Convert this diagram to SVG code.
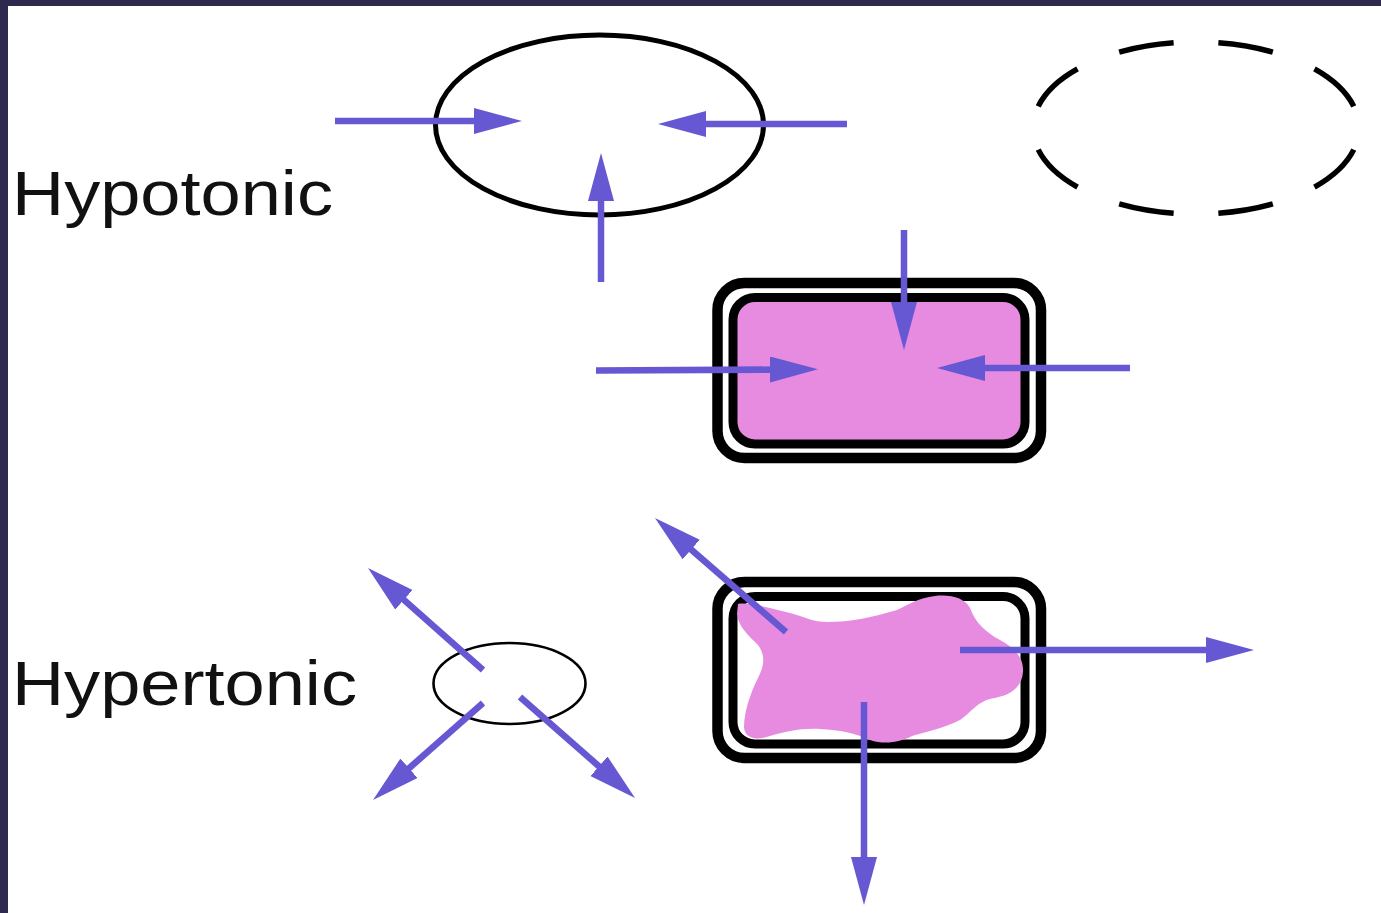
<svg xmlns="http://www.w3.org/2000/svg" width="1381" height="913" viewBox="0 0 1381 913">
  <style>
    .label { font-family: "Liberation Sans", Arial, sans-serif; font-size: 63px; fill: #111111; }
    .wall { fill: none; stroke: #000000; }
    .flow { stroke: #6657d2; stroke-width: 6.5; fill: none; marker-end: url(#head); }
  </style>
  <defs>
    <marker id="head" markerUnits="userSpaceOnUse" markerWidth="50" markerHeight="28" refX="18" refY="13" orient="auto">
      <path d="M0,0 L48,13 L0,26 Z" fill="#6657d2"/>
    </marker>
  </defs>

  <!-- page frame -->
  <rect x="0" y="0" width="1381" height="913" fill="#2d2a4e"/>
  <rect x="8" y="6" width="1373" height="907" fill="#ffffff"/>

  <!-- row labels -->
  <g id="label-hypotonic">
    <text class="label" x="12" y="215" textLength="321" lengthAdjust="spacingAndGlyphs">Hypotonic</text>
  </g>
  <g id="label-hypertonic">
    <text class="label" x="12" y="705" textLength="345" lengthAdjust="spacingAndGlyphs">Hypertonic</text>
  </g>

  <!-- animal cell, hypotonic -->
  <g id="animal-cell-swollen">
    <ellipse class="wall" cx="599.5" cy="125" rx="164" ry="90" stroke-width="5"/>
  </g>

  <!-- burst animal cell -->
  <g id="animal-cell-lysed">
    <ellipse class="wall" cx="1196" cy="128" rx="163" ry="86" stroke-width="5.5"
             pathLength="800" stroke-dasharray="55 45" stroke-dashoffset="-22.5"/>
  </g>

  <!-- plant cell, turgid -->
  <g id="plant-cell-turgid">
    <rect x="733" y="297.5" width="292" height="146.5" rx="22" fill="#e68be0"/>
    <rect class="wall" x="717.5" y="283" width="323.5" height="175" rx="27" stroke-width="10.5"/>
    <rect class="wall" x="733" y="297.5" width="292" height="146.5" rx="22" stroke-width="9"/>
  </g>

  <!-- animal cell, hypertonic -->
  <g id="animal-cell-shrunken">
    <ellipse class="wall" cx="509.5" cy="683.5" rx="76" ry="40.5" stroke-width="2.6"/>
  </g>

  <!-- plant cell, plasmolysed -->
  <g id="plant-cell-plasmolysed">
    <rect class="wall" x="717.5" y="582" width="323.5" height="176" rx="27" stroke-width="10.5"/>
    <rect class="wall" x="733" y="596.5" width="292" height="147.5" rx="22" stroke-width="9"/>
    <path fill="#e68be0" d="M738,604 C748,602 770,608 790,613 C805,617 812,622 828,622 C850,622 870,618 897,610
             C910,604 918,598 935,596 C950,594 965,598 970,608 C975,622 985,632 1000,640
             C1015,648 1024,658 1023,672 C1022,686 1012,695 995,698 C978,700 972,712 960,720
             C945,728 925,732 912,736 C900,742 885,745 870,740 C855,733 840,730 820,729
             C800,728 785,732 770,736 C758,740 746,740 744,728 C744,712 750,694 758,678
             C764,666 766,656 758,645 C748,635 738,626 737,614 Z"/>
  </g>

  <!-- water movement -->
  <g id="connectors">
    <line class="flow" x1="335" y1="121" x2="492" y2="121"/>
    <line class="flow" x1="847" y1="124" x2="688" y2="124"/>
    <line class="flow" x1="601" y1="282" x2="601" y2="183"/>

    <line class="flow" x1="904" y1="230" x2="904" y2="320"/>
    <line class="flow" x1="596" y1="370.5" x2="788" y2="369.5"/>
    <line class="flow" x1="1130" y1="368" x2="967" y2="368"/>

    <line class="flow" x1="483" y1="670" x2="390.4" y2="587.9"/>
    <line class="flow" x1="483" y1="703" x2="395.5" y2="780.2"/>
    <line class="flow" x1="520" y1="697" x2="612.5" y2="778.2"/>

    <line class="flow" x1="786" y1="632" x2="677.6" y2="537.7"/>
    <line class="flow" x1="960" y1="650" x2="1224" y2="650"/>
    <line class="flow" x1="864" y1="702" x2="864" y2="875"/>
  </g>
</svg>
